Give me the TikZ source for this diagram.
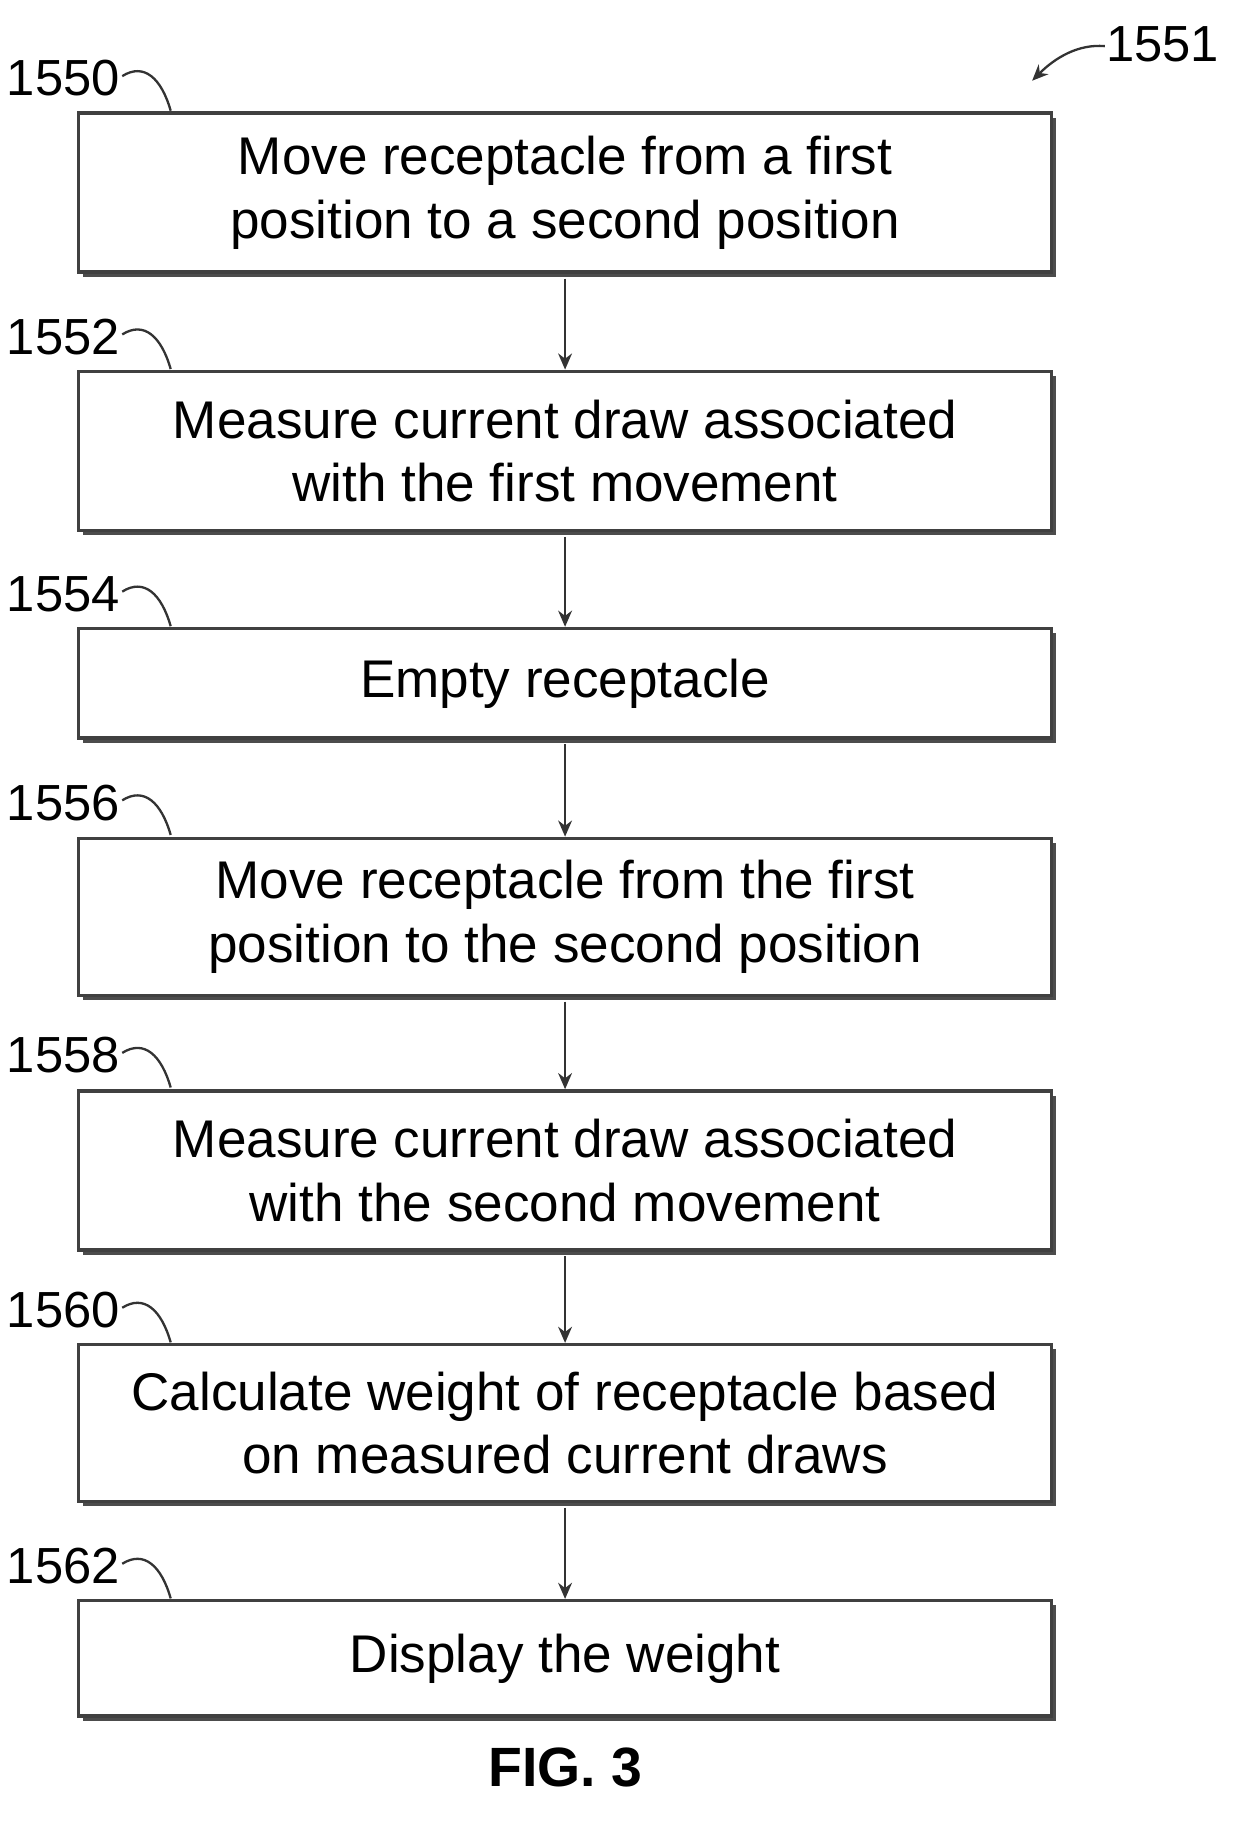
\documentclass[tikz,border=0pt]{standalone}
\usepackage{fontspec}
\setmainfont{Liberation Sans}
\usetikzlibrary{arrows.meta}
\begin{document}
\begin{tikzpicture}[x=0.5pt,y=-0.5pt,
 ref/.style={font=\fontsize{22}{24}\selectfont,anchor=center},
 arr/.style={draw=black!80,line width=1pt,-{Stealth[length=7pt,width=6pt]}},
 lead/.style={draw=black!80,line width=1pt}]
\useasboundingbox (0,0) rectangle (1080,1586);
\newcommand\stepnode[4]{%
 \fill[black!70] (72,#2+4) rectangle (916,#3+4);
 \node[draw=black!75,fill=white,line width=1.5pt,minimum width=422pt,minimum height={(#3-#2)*0.5pt},align=center,font=\fontsize{23}{27.5}\selectfont,inner sep=0pt] (#1) at (490,{(#2+#3)/2}) {#4};}
\stepnode{b1}{98}{236}{Move receptacle from a first\\position to a second position}
\stepnode{b2}{322}{460}{Measure current draw associated\\with the first movement}
\stepnode{b3}{545}{640}{Empty receptacle}
\stepnode{b4}{727}{863}{Move receptacle from the first\\position to the second position}
\stepnode{b5}{946}{1084}{Measure current draw associated\\with the second movement}
\stepnode{b6}{1166}{1302}{Calculate weight of receptacle based\\on measured current draws}
\stepnode{b7}{1388}{1488}{Display the weight}
\foreach \a/\b in {b1/b2,b2/b3,b3/b4,b4/b5,b5/b6,b6/b7}
  \draw[arr] (\a.south) ++(0,4) -- (\b.north);
\foreach \n/\y in {1550/68,1552/292,1554/515,1556/696,1558/915,1560/1136,1562/1358}{
  \node[ref] (l\n) at (55,\y) {\n};
  \draw[lead] (106,\y-2) .. controls (125,\y-14) and (140,\y) .. (148,\y+28);
}
\node[ref] (l1551) at (1008,38) {1551};
\coordinate (a1551) at (895,70);
\draw[arr] (958,40) .. controls (935,38) and (915,50) .. (a1551);
\node[font=\bfseries\fontsize{24}{26}\selectfont] (fig) at (490,1533) {FIG. 3};
\end{tikzpicture}
\end{document}
